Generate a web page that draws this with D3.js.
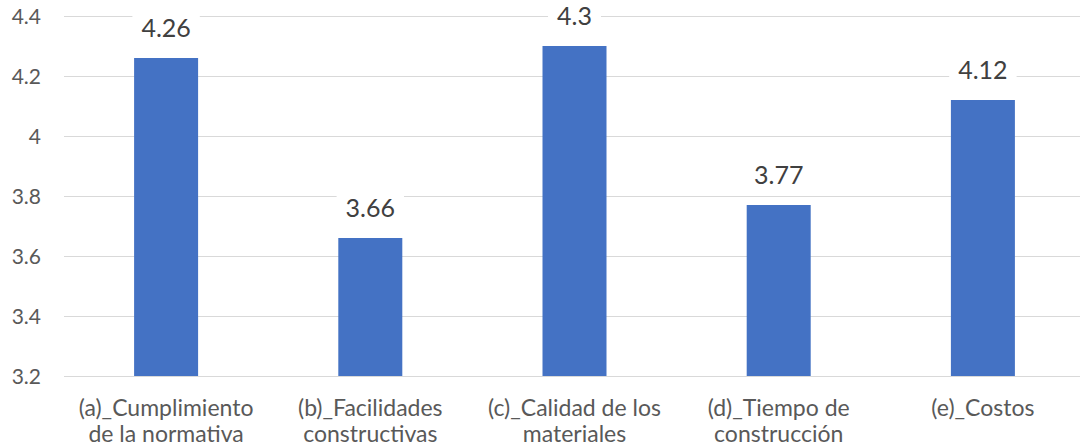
<!DOCTYPE html>
<html>
<head>
<meta charset="utf-8">
<script src="https://cdn.jsdelivr.net/npm/d3@7"></script>
<style>
  html, body { margin: 0; padding: 0; background: #ffffff; }
  svg { display: block; font-family: Lato, "Liberation Sans", sans-serif; }
</style>
</head>
<body>
<svg id="chart" width="1080" height="448"></svg>
<script>
// Category labels (two lines each) and their mean scores
const categories = [
  ["(a)_Cumplimiento", "de la normativa"],
  ["(b)_Facilidades", "constructivas"],
  ["(c)_Calidad de los", "materiales"],
  ["(d)_Tiempo de", "construcción"],
  ["(e)_Costos"]
];
const values = [4.26, 3.66, 4.3, 3.77, 4.12];
const yTicks = [3.2, 3.4, 3.6, 3.8, 4, 4.2, 4.4];

const svg = d3.select("#chart");
const margin = { left: 64, right: -5, top: 16, bottom: 72 };
const W = 1080, H = 448;

const x = d3.scaleBand()
  .domain(d3.range(categories.length))
  .range([margin.left, W - margin.right])
  .paddingInner(0).paddingOuter(0);

const y = d3.scaleLinear()
  .domain([3.2, 4.4])
  .range([H - margin.bottom, margin.top]);

const barW = 64;

// Horizontal gridlines
svg.append("g")
  .selectAll("line")
  .data(yTicks)
  .join("line")
  .attr("x1", margin.left)
  .attr("x2", W)
  .attr("y1", d => Math.round(y(d)) + 0.5)
  .attr("y2", d => Math.round(y(d)) + 0.5)
  .attr("stroke", "#d9d9d9")
  .attr("stroke-width", 1);

// Y axis labels
const yAxis = d3.axisLeft(y).tickValues(yTicks).tickSize(0).tickPadding(0)
  .tickFormat(d => String(d));
svg.append("g")
  .attr("transform", "translate(41,1)")
  .call(yAxis)
  .call(g => g.select(".domain").remove())
  .call(g => g.selectAll("text")
    .attr("fill", "#595959")
    .attr("font-size", 21)
    .attr("font-family", "Lato, 'Liberation Sans', sans-serif"));

// Bars
svg.append("g")
  .selectAll("rect")
  .data(values)
  .join("rect")
  .attr("x", (d, i) => x(i) + x.bandwidth() / 2 - barW / 2)
  .attr("width", barW)
  .attr("y", d => y(d))
  .attr("height", d => y(3.2) - y(d))
  .attr("fill", "#4472c4");

// Value labels with white backing
const labels = svg.append("g")
  .selectAll("g")
  .data(values)
  .join("g")
  .attr("transform", (d, i) => `translate(${x(i) + x.bandwidth() / 2},${y(d) - 21})`);

labels.append("text")
  .attr("text-anchor", "middle")
  .attr("fill", "#404040")
  .attr("font-size", 25)
  .text(d => String(d))
  .each(function () {
    const bb = this.getBBox();
    d3.select(this.parentNode).insert("rect", "text")
      .attr("x", bb.x - 9)
      .attr("y", bb.y)
      .attr("width", bb.width + 18)
      .attr("height", bb.height)
      .attr("fill", "#ffffff");
  });

// Category labels
const cat = svg.append("g")
  .selectAll("text")
  .data(categories)
  .join("text")
  .attr("text-anchor", "middle")
  .attr("fill", "#595959")
  .attr("font-size", 23)
  .attr("x", (d, i) => x(i) + x.bandwidth() / 2)
  .attr("y", 416);

cat.selectAll("tspan")
  .data(d => d)
  .join("tspan")
  .attr("x", function () { return d3.select(this.parentNode).attr("x"); })
  .attr("dy", (d, i) => i === 0 ? 0 : 26)
  .text(d => d);
</script>
</body>
</html>
